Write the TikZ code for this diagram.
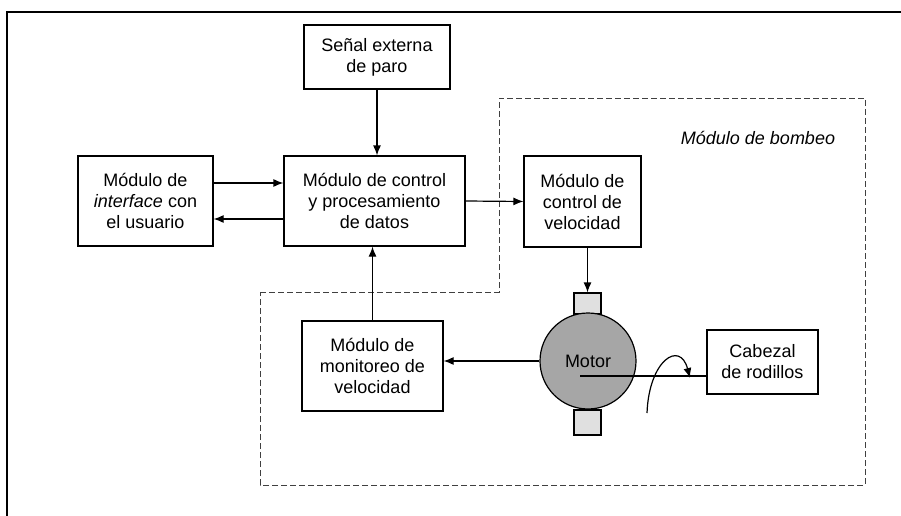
\documentclass[tikz,border=0pt]{standalone}
\usepackage{fontspec}
\setmainfont{Liberation Sans}
\usetikzlibrary{arrows.meta,calc}
\newcommand{\fsz}{\fontsize{18}{21}\selectfont}
\begin{document}
\begin{tikzpicture}[x=1pt,y=-1pt,
  box/.style={draw, line width=1.2pt, align=center, inner sep=0pt, font=\fsz},
  arr/.style={line width=1.2pt, -{Latex[length=10pt,width=8pt]}},
  plain/.style={line width=1.2pt},
  region/.style={draw=black!75, line width=0.6pt, dash pattern=on 6pt off 3pt}]
\useasboundingbox (0,0) rectangle (901,516);
% outer frame (top and left)
\coordinate (fl) at (7,516);
\coordinate (ftl) at (7,12);
\coordinate (ftr) at (901,12);
\draw[line width=1.5pt] (fl) -- (ftl) -- (ftr);
% pump module region
\draw[region] (260,292) -- (499,292) -- (499,98) -- (865,98) -- (865,485) -- (260,485) -- cycle;
\node[font=\fsz\itshape] (bomb) at (758,138) {Módulo de bombeo};
% boxes
\node[box, minimum width=146pt, minimum height=64pt] (senal) at (377,57) {Señal externa\\de paro};
\node[box, minimum width=181pt, minimum height=90pt] (ctrl) at (374.5,201) {Módulo de control\\y procesamiento\\de datos};
\node[box, minimum width=135pt, minimum height=90pt] (iface) at (145.5,201) {Módulo de\\\textit{interface} con\\el usuario};
\node[box, minimum width=117pt, minimum height=91pt] (vel) at (582.5,201.5) {Módulo de\\control de\\velocidad};
\node[box, minimum width=141pt, minimum height=90pt] (mon) at (372.5,366) {Módulo de\\monitoreo de\\velocidad};
\node[box, minimum width=111pt, minimum height=64pt] (cab) at (762.5,362) {Cabezal\\de rodillos};
% motor
\node[draw, line width=1.2pt, fill=black!12, minimum width=27pt, minimum height=21pt, inner sep=0pt] (tabtop) at (587.5,303.5) {};
\node[draw, line width=1.2pt, fill=black!12, minimum width=27pt, minimum height=25pt, inner sep=0pt] (tabbot) at (587.5,422.5) {};
\node[circle, draw, line width=1.2pt, fill=black!35, minimum size=96pt, inner sep=0pt, font=\fsz] (motor) at (588,361) {Motor};
% connectors
\draw[arr] (senal.south) -- (senal.south |- ctrl.north);
\draw[arr] ($(iface.east)+(0,-18)$) -- ($(ctrl.west)+(0,-18)$);
\draw[arr] ($(ctrl.west)+(0,18)$) -- ($(iface.east)+(0,18)$);
\draw[arr] (ctrl.east) -- (vel.west);
\draw[arr] (vel.south -| tabtop.north) -- (tabtop.north);
\draw[arr] (motor.west) -- (mon.east |- motor.west);
\draw[arr] (mon.north) -- (mon.north |- ctrl.south);
\coordinate (shaft) at (580,376);
\draw[plain] (shaft) -- (shaft -| cab.west);
\coordinate (ca) at (647,413);
\coordinate (cb) at (690,378);
\draw[arr] (ca) .. controls (649,360) and (680,340) .. (cb);
\end{tikzpicture}
\end{document}
